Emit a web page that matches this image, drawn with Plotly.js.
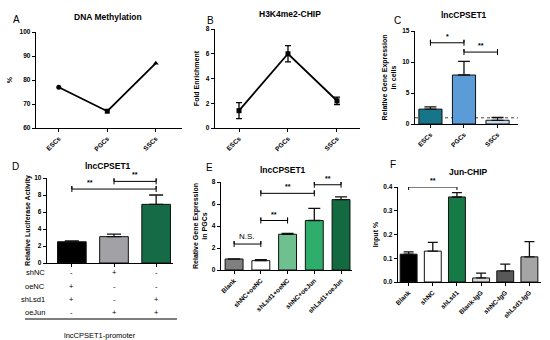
<!DOCTYPE html>
<html><head><meta charset="utf-8">
<script src="https://cdn.plot.ly/plotly-3.0.1.min.js"></script>
<style>html,body{margin:0;padding:0;background:#fff}#chart{width:550px;height:340px}</style>
</head><body><div id="chart"></div>
<script>
// ---------- data ----------
const cellTypes = ['ESCs', 'PGCs', 'SSCs'];
const methylation = [77, 67, 87];
const h3k4me2 = [1.4, 6.0, 2.2];
const h3k4me2Err = [0.65, 0.65, 0.3];
const cExpr = [2.4, 7.9, 0.6];
const cErr = [0.35, 2.2, 0.45];
const cRefLine = 1;
const cBrackets = [['ESCs', 'PGCs', 13.1, '*'], ['PGCs', 'SSCs', 11.6, '**']];

const dGroups = ['oeNC+shLsd1', 'shNC+oeJun', 'shLsd1+oeJun'];
const dLuc = [2.5, 3.1, 6.9];
const dErr = [0.1, 0.3, 1.1];
const dRowLabels = ['shNC', 'oeNC', 'shLsd1', 'oeJun'];
const dRowSymbols = [['-', '+', '-'], ['+', '-', '-'], ['+', '-', '+'], ['-', '+', '+']];
const dBrackets = [['oeNC+shLsd1', 'shLsd1+oeJun', 8.7, '**'], ['shNC+oeJun', 'shLsd1+oeJun', 9.6, '**']];

const eCats = ['Blank', 'shNC+oeNC', 'shLsd1+oeNC', 'shNC+oeJun', 'shLsd1+oeJun'];
const eExpr = [1.0, 0.85, 3.25, 4.5, 6.4];
const eErr = [0, 0.1, 0.07, 1.1, 0.25];
const eBrackets = [['Blank', 'shNC+oeNC', 2.36, 'N.S.'], ['shNC+oeNC', 'shLsd1+oeNC', 4.5, '**'],
                   ['shNC+oeNC', 'shNC+oeJun', 6.97, '**'], ['shNC+oeJun', 'shLsd1+oeJun', 7.75, '**']];

const fCats = ['Blank', 'shNC', 'shLsd1', 'Blank-IgG', 'shNC-IgG', 'shLsd1-IgG'];
const fInput = [0.117, 0.13, 0.358, 0.017, 0.047, 0.106];
const fErr = [0.01, 0.037, 0.018, 0.02, 0.028, 0.064];
const fBrackets = [['Blank', 'shLsd1', 0.4, '**']];

// ---------- styling ----------
const FONT = 'Liberation Sans, Arial, sans-serif';
const W = 550, H = 340;
const px = v => v / W, py = v => 1 - v / H;
const zeros = n => new Array(n).fill(0);

function axisBase(extra) {
  return Object.assign({
    showline: true, linecolor: '#000', linewidth: 1.3, mirror: false,
    ticks: 'outside', ticklen: 3, tickwidth: 1, tickcolor: '#000',
    showgrid: false, zeroline: false, fixedrange: true,
    tickfont: {family: FONT, size: 6.5, color: '#000', weight: 'bold'}
  }, extra);
}

function bracket(xa, ya, b, d) {
  const [a, c, y] = b;
  return {type: 'scatter', mode: 'lines', xaxis: xa, yaxis: ya, cliponaxis: false,
    x: [a, a, a, c, c, c], y: [y - d, y + d, y, y, y + d, y - d],
    line: {color: '#000', width: 1}, hoverinfo: 'skip'};
}
// labelPos: fraction along the bracket where its label sits (0.5 = centred)
function bracketLabel(xa, ya, cats, b, size, shift, labelPos) {
  const i0 = cats.indexOf(b[0]), i1 = cats.indexOf(b[1]);
  const f = labelPos === undefined ? 0.5 : labelPos;
  return {xref: xa, yref: ya, x: i0 + (i1 - i0) * f, y: b[2], text: b[3], showarrow: false,
    yanchor: 'bottom', yshift: shift, font: {family: FONT, size: size, color: '#000', weight: b[3] === 'N.S.' ? 'normal' : 'bold'}};
}

const traces = [];
// A
traces.push({type: 'scatter', mode: 'lines+markers', x: cellTypes, y: methylation, xaxis: 'x', yaxis: 'y',
  line: {color: '#000', width: 1.8}, marker: {color: '#000', size: 5, symbol: ['circle', 'square', 'triangle-up']}});
// B
traces.push({type: 'scatter', mode: 'lines+markers', x: cellTypes, y: h3k4me2, xaxis: 'x2', yaxis: 'y2',
  line: {color: '#000', width: 1.8}, marker: {color: '#000', size: 5, symbol: 'square'},
  error_y: {type: 'data', array: h3k4me2Err, color: '#000', thickness: 1.3, width: 3}});
// C
traces.push({type: 'bar', x: cellTypes, y: cExpr, xaxis: 'x3', yaxis: 'y3', width: 0.69,
  marker: {color: ['#17758a', '#5b9bd8', '#c7dcf2'], line: {color: '#111', width: 1}},
  error_y: {type: 'data', symmetric: false, array: cErr, arrayminus: zeros(3), color: '#111', thickness: 1.3, width: 6}});
// D
traces.push({type: 'bar', x: dGroups, y: dLuc, xaxis: 'x4', yaxis: 'y4', width: 0.68,
  marker: {color: ['#000000', '#a2a2a6', '#146b46'], line: {color: '#111', width: 1}},
  error_y: {type: 'data', symmetric: false, array: dErr, arrayminus: zeros(3), color: '#111', thickness: 1.3, width: 7}});
// E
traces.push({type: 'bar', x: eCats, y: eExpr, xaxis: 'x5', yaxis: 'y5', width: 0.67,
  marker: {color: ['#7f7f7f', '#ffffff', '#6ec08e', '#2fae6b', '#146a40'], line: {color: '#111', width: 1}},
  error_y: {type: 'data', symmetric: false, array: eErr, arrayminus: zeros(5), color: '#111', thickness: 1.3, width: 6}});
// F
traces.push({type: 'bar', x: fCats, y: fInput, xaxis: 'x6', yaxis: 'y6', width: 0.7,
  marker: {color: ['#000000', '#ffffff', '#167a46', '#d8d8d8', '#585858', '#a5a5a5'], line: {color: '#111', width: 1}},
  error_y: {type: 'data', symmetric: false, array: fErr, arrayminus: zeros(6), color: '#111', thickness: 1.3, width: 5}});

const annotations = [];
const dLabelPos = [0.22, 0.5];
cBrackets.forEach(b => { traces.push(bracket('x3', 'y3', b, 0.48)); annotations.push(bracketLabel('x3', 'y3', cellTypes, b, 7, 1)); });
dBrackets.forEach((b, k) => { traces.push(bracket('x4', 'y4', b, 0.35)); annotations.push(bracketLabel('x4', 'y4', dGroups, b, 7, 1, dLabelPos[k])); });
eBrackets.forEach(b => { traces.push(bracket('x5', 'y5', b, 0.27)); annotations.push(bracketLabel('x5', 'y5', eCats, b, b[3] === 'N.S.' ? 8 : 7, 1)); });
fBrackets.forEach(b => { traces.push(bracket('x6', 'y6', b, 0.0126)); annotations.push(bracketLabel('x6', 'y6', fCats, b, 7, 1)); });

// panel titles & letters
const titleFont = {family: FONT, size: 8.5, color: '#000', weight: 'bold'};
const letterFont = {family: FONT, size: 10, color: '#000'};
[['DNA Methylation', 108, 17], ['H3K4me2-CHIP', 290, 14], ['lncCPSET1', 464, 15],
 ['lncCPSET1', 108, 166], ['lncCPSET1', 283, 170], ['Jun-CHIP', 468, 172]].forEach(t =>
  annotations.push({xref: 'paper', yref: 'paper', x: px(t[1]), y: py(t[2]), text: t[0], showarrow: false,
    xanchor: 'center', yanchor: 'middle', font: titleFont}));
[['A', 16, 19], ['B', 210, 20], ['C', 397, 20], ['D', 15, 166], ['E', 209, 167], ['F', 393, 164]].forEach(t =>
  annotations.push({xref: 'paper', yref: 'paper', x: px(t[1]), y: py(t[2]), text: t[0], showarrow: false,
    xanchor: 'center', yanchor: 'middle', font: letterFont}));

// D condition table
const tableFont = {family: FONT, size: 7.5, color: '#000'};
const rowY = [272, 286, 299, 312];
dRowLabels.forEach((lab, r) => {
  annotations.push({xref: 'paper', yref: 'paper', x: px(47), y: py(rowY[r]), text: lab, showarrow: false,
    xanchor: 'right', yanchor: 'middle', font: tableFont});
  dRowSymbols[r].forEach((s, i) => annotations.push({xref: 'x4', yref: 'paper', x: i, y: py(rowY[r]), text: s,
    showarrow: false, xanchor: 'center', yanchor: 'middle', font: tableFont}));
});
annotations.push({xref: 'paper', yref: 'paper', x: px(100), y: py(335), text: 'lncCPSET1-promoter', showarrow: false,
  xanchor: 'center', yanchor: 'middle', font: tableFont});

const shapes = [
  {type: 'line', xref: 'x3 domain', yref: 'y3', x0: 0, x1: 1, y0: cRefLine, y1: cRefLine, line: {color: '#444', width: 1, dash: 'dot'}, layer: 'below'},
  {type: 'line', xref: 'paper', yref: 'paper', x0: px(25), x1: px(177), y0: py(319), y1: py(319), line: {color: '#000', width: 1}}
];

const yTitleFont = {family: FONT, size: 7, color: '#000', weight: 'bold'};
const layout = {
  width: W, height: H, margin: {l: 0, r: 0, t: 0, b: 0}, paper_bgcolor: '#fff', plot_bgcolor: 'rgba(0,0,0,0)',
  showlegend: false, font: {family: FONT, color: '#000'},
  xaxis: axisBase({domain: [px(36), px(182)], range: [-0.47, 2.54], tickangle: -45, anchor: 'y'}),
  yaxis: axisBase({domain: [py(128), py(32)], range: [60, 100], dtick: 10, anchor: 'x',
    title: {text: '%', font: yTitleFont, standoff: 6}}),
  xaxis2: axisBase({domain: [px(215), px(360)], range: [-0.49, 2.47], tickangle: -45, anchor: 'y2'}),
  yaxis2: axisBase({domain: [py(128), py(29)], range: [0, 8], dtick: 2, anchor: 'x2',
    title: {text: 'Fold Enrichment', font: yTitleFont, standoff: 5}}),
  xaxis3: axisBase({domain: [px(415), px(518)], range: [-0.46, 2.61], tickangle: -45, anchor: 'y3'}),
  yaxis3: axisBase({domain: [py(124), py(31)], range: [0, 15], dtick: 5, anchor: 'x3',
    title: {text: 'Relative Gene Expression<br>in cells', font: yTitleFont, standoff: 4}}),
  xaxis4: axisBase({domain: [px(47), px(173)], range: [-0.59, 2.4], showticklabels: false, anchor: 'y4'}),
  yaxis4: axisBase({domain: [py(263), py(178)], range: [0, 10], dtick: 2, anchor: 'x4',
    title: {text: 'Relative Luciferase Activity', font: yTitleFont, standoff: 2}}),
  xaxis5: axisBase({domain: [px(221), px(352)], range: [-0.49, 4.41], tickangle: -45, anchor: 'y5'}),
  yaxis5: axisBase({domain: [py(270), py(182)], range: [0, 8], dtick: 2, anchor: 'x5',
    title: {text: 'Relative Gene Expression<br>in PGCs', font: yTitleFont, standoff: 3}}),
  xaxis6: axisBase({domain: [px(398), px(541)], range: [-0.44, 5.48], tickangle: -45, anchor: 'y6'}),
  yaxis6: axisBase({domain: [py(282), py(187)], range: [0, 0.4], dtick: 0.1, tickformat: '.1f', anchor: 'x6',
    title: {text: 'Input %', font: yTitleFont, standoff: 4}}),
  annotations: annotations, shapes: shapes
};

Plotly.newPlot('chart', traces, layout, {displayModeBar: false, staticPlot: true});
</script></body></html>
